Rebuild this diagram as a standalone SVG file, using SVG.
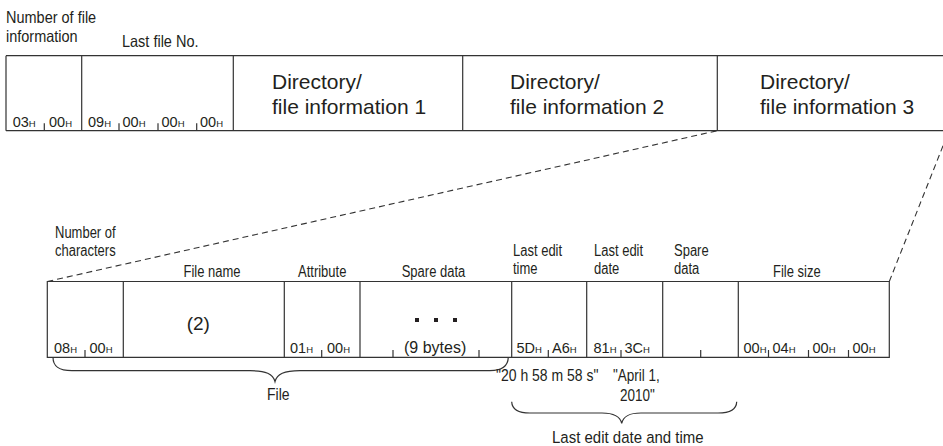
<svg xmlns="http://www.w3.org/2000/svg" width="943" height="446" viewBox="0 0 943 446">
<style>
  text { font-family: "Liberation Sans", Arial, sans-serif; fill: #231f20; }
  .ln { stroke: #333; stroke-width: 1.2; fill: none; }
  .tk { stroke: #333; stroke-width: 1.2; }
  .dash { stroke: #333; stroke-width: 1.1; fill: none; stroke-dasharray: 6 4; }
  .brace { stroke: #333; stroke-width: 1.2; fill: none; }
  .big { font-size: 21px; }
  .hx { font-size: 14.5px; }
  .h { font-size: 9.5px; }
  .lbl { font-size: 13px; }
  .tlbl { font-size: 14.5px; }
</style>

<g id="top-labels">
  <text class="tlbl" transform="translate(6,22.5) scale(1,1.15)">Number of file</text>
  <text class="tlbl" transform="translate(6,41.5) scale(1,1.15)">information</text>
  <text class="tlbl" transform="translate(122,46.5) scale(1,1.15)">Last file No.</text>
</g>

<g id="top-row">
  <path class="ln" d="M6,55.7 H943 M6,130.7 H943 M6,55.7 V130.7 M81.7,55.7 V130.7 M233.3,55.7 V130.7 M462.7,55.7 V130.7 M717.3,55.7 V130.7"/>
</g>

<g id="top-count">
  <text class="hx" x="12.7" y="126.7">03<tspan class="h">H</tspan></text>
  <line class="tk" x1="44.3" y1="123.3" x2="44.3" y2="130.7"/>
  <text class="hx" x="49" y="126.7">00<tspan class="h">H</tspan></text>
</g>

<g id="top-lastno">
  <text class="hx" x="88" y="126.7">09<tspan class="h">H</tspan></text>
  <line class="tk" x1="119" y1="123.3" x2="119" y2="130.7"/>
  <text class="hx" x="122.5" y="126.7">00<tspan class="h">H</tspan></text>
  <line class="tk" x1="158" y1="123.3" x2="158" y2="130.7"/>
  <text class="hx" x="161.5" y="126.7">00<tspan class="h">H</tspan></text>
  <line class="tk" x1="196.7" y1="123.3" x2="196.7" y2="130.7"/>
  <text class="hx" x="200" y="126.7">00<tspan class="h">H</tspan></text>
</g>

<g id="dir1">
  <text class="big" x="272" y="89">Directory/</text>
  <text class="big" x="272" y="114">file information 1</text>
</g>
<g id="dir2">
  <text class="big" x="510" y="89">Directory/</text>
  <text class="big" x="510" y="114">file information 2</text>
</g>
<g id="dir3">
  <text class="big" x="760" y="89">Directory/</text>
  <text class="big" x="760" y="114">file information 3</text>
</g>

<g id="connectors">
  <line class="dash" x1="47.3" y1="281.5" x2="717.3" y2="130.7"/>
  <line class="dash" x1="889.3" y1="281.5" x2="949" y2="130.7"/>
  <path class="brace" d="M53,357.3 C53,366 58,370.7 72,370.7 L250,370.7 C266,370.7 273,374 275,381.7 C277,374 284,370.7 300,370.7 L490,370.7 C503,370.7 508,366 508.3,357.3"/>
  <path class="brace" d="M511.7,401.7 C512,409 517,413 530,413 L602,413 C614,413 620,416 621.7,423.3 C623.4,416 629,413 641,413 L718,413 C731,413 736.5,409 736.7,401.7"/>
</g>

<g id="bottom-labels">
  <text class="lbl" transform="translate(55,238) scale(1,1.25)">Number of</text>
  <text class="lbl" transform="translate(55,256) scale(1,1.25)">characters</text>
  <text class="lbl" transform="translate(183.5,276.5) scale(1,1.25)">File name</text>
  <text class="lbl" transform="translate(298,276.5) scale(1,1.25)">Attribute</text>
  <text class="lbl" transform="translate(401.7,276.5) scale(1,1.25)">Spare data</text>
  <text class="lbl" transform="translate(513,256) scale(1,1.25)">Last edit</text>
  <text class="lbl" transform="translate(513,274) scale(1,1.25)">time</text>
  <text class="lbl" transform="translate(594,256) scale(1,1.25)">Last edit</text>
  <text class="lbl" transform="translate(594,274) scale(1,1.25)">date</text>
  <text class="lbl" transform="translate(674,256) scale(1,1.25)">Spare</text>
  <text class="lbl" transform="translate(674,274) scale(1,1.25)">data</text>
  <text class="lbl" transform="translate(773,276.5) scale(1,1.25)">File size</text>
</g>

<g id="bottom-row">
  <path class="ln" d="M47.3,281.5 H889.3 V357.3 H47.3 Z M123.3,281.5 V357.3 M284.3,281.5 V357.3 M360,281.5 V357.3 M511.7,281.5 V357.3 M586.7,281.5 V357.3 M662.7,281.5 V357.3 M738.3,281.5 V357.3"/>
</g>

<g id="f-chars">
  <text class="hx" x="54" y="352.7">08<tspan class="h">H</tspan></text>
  <line class="tk" x1="85" y1="350" x2="85" y2="357.3"/>
  <text class="hx" x="89.5" y="352.7">00<tspan class="h">H</tspan></text>
</g>
<g id="f-name">
  <text x="186.7" y="329.5" style="font-size:19px">(2)</text>
</g>
<g id="f-attr">
  <text class="hx" x="290" y="352.7">01<tspan class="h">H</tspan></text>
  <line class="tk" x1="321.7" y1="350" x2="321.7" y2="357.3"/>
  <text class="hx" x="327" y="352.7">00<tspan class="h">H</tspan></text>
</g>
<g id="f-spare">
  <rect x="415" y="318" width="4" height="4" fill="#231f20"/>
  <rect x="434" y="318" width="4" height="4" fill="#231f20"/>
  <rect x="453" y="318" width="4" height="4" fill="#231f20"/>
  <line class="tk" x1="393" y1="350" x2="393" y2="357.3"/>
  <text x="404" y="353" style="font-size:16px">(9 bytes)</text>
  <line class="tk" x1="479" y1="350" x2="479" y2="357.3"/>
</g>
<g id="f-time">
  <text class="hx" x="516.5" y="352.7">5D<tspan class="h">H</tspan></text>
  <line class="tk" x1="548.3" y1="350" x2="548.3" y2="357.3"/>
  <text class="hx" x="552" y="352.7">A6<tspan class="h">H</tspan></text>
</g>
<g id="f-date">
  <text class="hx" x="593.5" y="352.7">81<tspan class="h">H</tspan></text>
  <line class="tk" x1="621" y1="350" x2="621" y2="357.3"/>
  <text class="hx" x="624.5" y="352.7">3C<tspan class="h">H</tspan></text>
</g>
<g id="f-spare2">
  <line class="tk" x1="700.7" y1="350" x2="700.7" y2="357.3"/>
</g>
<g id="f-size">
  <text class="hx" x="743.5" y="352.7">00<tspan class="h">H</tspan></text>
  <line class="tk" x1="768.5" y1="350" x2="768.5" y2="357.3"/>
  <text class="hx" x="772.5" y="352.7">04<tspan class="h">H</tspan></text>
  <line class="tk" x1="808.5" y1="350" x2="808.5" y2="357.3"/>
  <text class="hx" x="812.5" y="352.7">00<tspan class="h">H</tspan></text>
  <line class="tk" x1="848.5" y1="350" x2="848.5" y2="357.3"/>
  <text class="hx" x="852.5" y="352.7">00<tspan class="h">H</tspan></text>
</g>

<g id="notes">
  <text class="lbl" transform="translate(267,399.5) scale(1,1.2)" style="font-size:14px">File</text>
  <text class="lbl" transform="translate(496,381) scale(1,1.2)" style="font-size:14px">"20 h 58 m 58 s"</text>
  <text class="lbl" transform="translate(613,381) scale(1,1.2)" style="font-size:13.5px">"April 1,</text>
  <text class="lbl" transform="translate(620,401) scale(1,1.2)" style="font-size:13.5px">2010"</text>
  <text class="lbl" transform="translate(552,443) scale(1,1.15)" style="font-size:15px">Last edit date and time</text>
</g>
</svg>
